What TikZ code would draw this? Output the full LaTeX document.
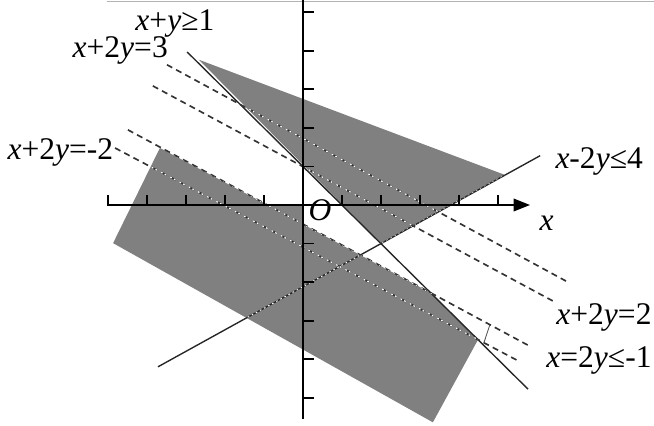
\documentclass[tikz,border=0pt]{standalone}
\usepackage{fontspec}
\setmainfont{Liberation Serif}
\usetikzlibrary{arrows.meta}
\newcommand{\vx}{\textit{x}}
\newcommand{\vy}{\textit{y}}

\begin{document}
\begin{tikzpicture}[x=0.5cm,y=0.494cm,font=\fontsize{11.5}{13}\selectfont,
 axis/.style={line width=.7pt},
 region/.style={fill=gray},
 bound/.style={line width=.5pt,black!85},
 level/.style={line width=.6pt,black!80,dash pattern=on 2.2pt off 1.6pt},
 glint/.style={white,line width=.45pt,dash pattern=on .6pt off .9pt on .6pt off 1.7pt},
 glintdot/.style={white,line width=.35pt,dash pattern=on .6pt off 1.1pt},
 lbl/.style={inner sep=0pt,anchor=base west}]

\useasboundingbox (-7.77,-5.71) rectangle (9.0,5.32);
\draw[gray!60,line width=.4pt] (-5.03,5.28) -- (9.0,5.28);

% boundary lines and level lines x+2y=c
\coordinate (l1a) at (-2.97,3.97); \coordinate (l1b) at (5.77,-4.78);
\coordinate (l2a) at (-3.72,-4.2); \coordinate (l2b) at (6.08,1.28);
\coordinate (ka) at (-3.49,3.64);  \coordinate (kb) at (6.79,-2.0);
\coordinate (ma) at (-3.85,3.09);  \coordinate (mb) at (6.46,-2.52);
\coordinate (na) at (-4.49,1.95);  \coordinate (nb) at (5.77,-3.64);
\coordinate (pa) at (-4.82,1.48);  \coordinate (pb) at (5.49,-4.03);

% corners of the shaded parts
\coordinate (u1) at (-2.67,3.77); \coordinate (u2) at (5.18,0.78); \coordinate (u3) at (2.0,-1.0);
\coordinate (w1) at (-3.67,1.48); \coordinate (w2) at (-0.91,0); \coordinate (w3) at (0,0);
\coordinate (w4) at (0,-0.5);     \coordinate (w5) at (3.29,-2.29); \coordinate (w6) at (4.49,-3.49);
\coordinate (w7) at (3.33,-5.64); \coordinate (w8) at (-4.87,-0.99);

\fill[region] (u1) -- (u2) -- (u3) -- cycle;
\fill[region] (w1) -- (w2) -- (w3) -- (w4) -- (w5) -- (w6) -- (w7) -- (w8) -- cycle;

\draw[bound] (l1a) -- (l1b);
\draw[bound] (l2a) -- (l2b);
\foreach \s/\e in {ka/kb,ma/mb,na/nb,pa/pb}{\draw[level] (\s) -- (\e);}
\draw[black!70,line width=.3pt] (4.79,-3.11) -- (4.64,-3.57);

\begin{scope}
\clip (u1) -- (u2) -- (u3) -- cycle;
\foreach \s/\e in {ka/kb,ma/mb}{\draw[glint] (\s) -- (\e);}
\draw[glintdot] (l2a) -- (l2b);
\end{scope}
\begin{scope}
\clip (w1) -- (w2) -- (w3) -- (w4) -- (w5) -- (w6) -- (w7) -- (w8) -- cycle;
\foreach \s/\e in {na/nb,pa/pb}{\draw[glint] (\s) -- (\e);}
\draw[glintdot] (l2a) -- (l2b);
\end{scope}

% axes
\draw[axis,-{Triangle[length=6pt,width=4.6pt]}] (-5.03,0) -- (5.82,0);
\draw[axis] (0,5.32) -- (0,-5.56);
\foreach \i in {-5,...,-1,1,2,...,5}{\draw[axis] (\i,0) -- (\i,0.27);}
\foreach \j in {-5,...,-1,1,2,...,5}{\draw[axis] (0,\j) -- (0.28,\j);}

\node[lbl] (xname) at (6.05,-0.65) {\vx};
\node[lbl] (orig) at (0.13,-0.39) {\textit{O}};
\node[lbl] (lxy) at (-4.31,4.52) {\vx+\vy≥1};
\node[lbl] (lthree) at (-5.92,3.84) {\vx+2\vy=3};
\node[lbl] (lmtwo) at (-7.59,1.19) {\vx+2\vy=-2};
\node[lbl] (lfour) at (6.46,0.96) {\vx-2\vy≤4};
\node[lbl,anchor=base east] (ltwo) at (8.95,-3.09) {\vx+2\vy=2};
\node[lbl,anchor=base east] (lmone) at (8.95,-4.21) {\vx=2\vy≤-1};

\end{tikzpicture}
\end{document}
